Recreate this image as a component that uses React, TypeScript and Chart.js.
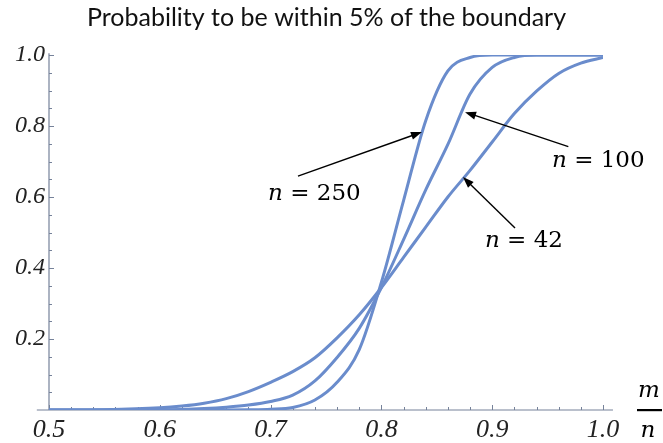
import React, { useEffect, useRef } from "react";
import { Chart, registerables } from "chart.js";

Chart.register(...registerables);

// ---- data ----
const xValues = [0.5, 0.55, 0.6, 0.62, 0.64, 0.66, 0.68, 0.7, 0.72, 0.74, 0.76, 0.78, 0.8, 0.82, 0.84, 0.86, 0.88, 0.9, 0.92, 0.94, 0.96, 0.98, 1.0];
const n42 = [0, 0.001, 0.006, 0.011, 0.019, 0.032, 0.052, 0.078, 0.108, 0.147, 0.203, 0.268, 0.345, 0.43, 0.515, 0.6, 0.675, 0.755, 0.835, 0.898, 0.948, 0.977, 0.993];
const n100 = [0, 0, 0.0005, 0.0015, 0.004, 0.008, 0.014, 0.024, 0.042, 0.082, 0.148, 0.23, 0.345, 0.48, 0.62, 0.748, 0.89, 0.965, 0.993, 1.0, 1.0, 1.0, 1.0];
const n250 = [0, 0, 0, 0, 0, 0, 0.0005, 0.002, 0.007, 0.028, 0.078, 0.17, 0.36, 0.59, 0.815, 0.955, 0.993, 1.0, 1.0, 1.0, 1.0, 1.0, 1.0];
const seriesNames = ["42", "100", "250"];
const titleText = "Probability to be within 5% of the boundary";

// annotation anchors in data coordinates: [text x, text baseline y], arrow tail, arrow tip
const annotationText = [[0.8935, 0.459], [0.954, 0.685], [0.6977, 0.592]];
const annotationTail = [[0.9206, 0.513], [0.9687, 0.7417], [0.7247, 0.659]];
const annotationTip = [[0.8736, 0.656], [0.8755, 0.839], [0.8366, 0.783]];

const LINE_COLOR = "#6a8ccc";
const AXIS_COLOR = "#76829a";
const LABEL_COLOR = "#222";

const axesPlugin = {
  id: "mmaAxes",
  beforeDatasetsDraw(chart: any) {
    const { ctx, scales } = chart;
    const x = scales.x;
    const y = scales.y;
    const x0 = x.getPixelForValue(0.5);
    const y0 = y.getPixelForValue(0);
    ctx.save();
    ctx.strokeStyle = AXIS_COLOR;
    ctx.lineWidth = 1.2;
    ctx.beginPath();
    ctx.moveTo(x.getPixelForValue(0.489), y0);
    ctx.lineTo(x.getPixelForValue(1.009), y0);
    ctx.moveTo(x0, y0);
    ctx.lineTo(x0, y.getPixelForValue(1.005));
    ctx.stroke();
    ctx.lineWidth = 1;
    ctx.beginPath();
    for (let i = 25; i <= 50; i++) {
      const px = Math.round(x.getPixelForValue(i / 50)) + 0.5;
      const len = i % 5 === 0 ? 5 : 3;
      ctx.moveTo(px, y0);
      ctx.lineTo(px, y0 - len);
    }
    for (let i = 1; i <= 20; i++) {
      const py = Math.round(y.getPixelForValue(i / 20)) + 0.5;
      const len = i % 4 === 0 ? 5 : 3;
      ctx.moveTo(x0, py);
      ctx.lineTo(x0 + len, py);
    }
    ctx.stroke();
    ctx.restore();
  },
  afterDatasetsDraw(chart: any) {
    const { ctx, scales } = chart;
    const x = scales.x;
    const y = scales.y;
    ctx.save();
    for (let i = 0; i < seriesNames.length; i++) {
      const tx = x.getPixelForValue(annotationTail[i][0]);
      const ty = y.getPixelForValue(annotationTail[i][1]);
      const hx = x.getPixelForValue(annotationTip[i][0]);
      const hy = y.getPixelForValue(annotationTip[i][1]);
      const ang = Math.atan2(hy - ty, hx - tx);
      const head = 11;
      const half = 4;
      const c = Math.cos(ang);
      const s = Math.sin(ang);
      ctx.strokeStyle = "#000";
      ctx.fillStyle = "#000";
      ctx.lineWidth = 1.4;
      ctx.beginPath();
      ctx.moveTo(tx, ty);
      ctx.lineTo(hx - head * c * 0.8, hy - head * s * 0.8);
      ctx.stroke();
      ctx.beginPath();
      ctx.moveTo(hx, hy);
      ctx.lineTo(hx - head * c - half * s, hy - head * s + half * c);
      ctx.lineTo(hx - head * c + half * s, hy - head * s - half * c);
      ctx.closePath();
      ctx.fill();

      const lx = x.getPixelForValue(annotationText[i][0]);
      const ly = y.getPixelForValue(annotationText[i][1]);
      ctx.textBaseline = "alphabetic";
      ctx.textAlign = "left";
      ctx.font = 'italic 23px "DejaVu Serif"';
      ctx.fillText("n", lx, ly);
      const w = ctx.measureText("n").width;
      ctx.font = '23px "DejaVu Serif"';
      ctx.fillText(" = " + seriesNames[i], lx + w, ly);
    }
    // m/n axis label
    const fx = x.getPixelForValue(1.0) + 46;
    const fy = y.getPixelForValue(0);
    ctx.font = 'italic 23px "DejaVu Serif"';
    ctx.textAlign = "center";
    ctx.textBaseline = "alphabetic";
    ctx.fillStyle = "#000";
    ctx.fillText("m", fx, fy - 13);
    ctx.fillText("n", fx - 1, fy + 27);
    ctx.fillRect(fx - 12, fy - 1, 25, 2.2);
    ctx.restore();
  },
};

export default function App() {
  const ref = useRef<HTMLCanvasElement>(null);
  useEffect(() => {
    if (!ref.current) return;
    const mk = (data: number[]) => ({
      data: xValues.map((v, i) => ({ x: v, y: data[i] })),
      borderColor: LINE_COLOR,
      borderWidth: 3,
      pointRadius: 0,
      fill: false,
      yAxisID: "y",
      cubicInterpolationMode: "monotone" as const,
    });
    const chart = new Chart(ref.current, {
      type: "line",
      data: { datasets: [mk(n42), mk(n100), mk(n250)] },
      options: {
        animation: false,
        responsive: false,
        devicePixelRatio: 1,
        layout: { padding: { left: 0, right: 10, top: 0, bottom: 0 } },
        plugins: {
          legend: { display: false },
          tooltip: { enabled: false },
          title: {
            display: true,
            text: titleText,
            color: "#111",
            font: { family: "Lato", size: 25, weight: "normal" },
            padding: { top: 3, bottom: 22 },
          },
        },
        scales: {
          x: {
            type: "linear",
            min: 0.5,
            max: 1.0,
            grid: { display: false, drawTicks: false },
            border: { display: false },
            ticks: {
              stepSize: 0.1,
              autoSkip: false,
              maxRotation: 0,
              padding: 5,
              color: LABEL_COLOR,
              font: { family: '"Liberation Serif"', style: "italic", size: 26 },
              callback: (v: any) => Number(v).toFixed(1),
            },
            afterFit: (s: any) => {
              s.height = 33;
            },
          },
          y: {
            type: "linear",
            min: 0,
            max: 1,
            grid: { display: false, drawTicks: false },
            border: { display: false },
            ticks: {
              stepSize: 0.2,
              padding: 4,
              color: LABEL_COLOR,
              font: { family: '"Liberation Serif"', style: "italic", size: 24 },
              callback: (v: any) => (Number(v) === 0 ? "" : Number(v).toFixed(1)),
            },
            afterFit: (s: any) => {
              s.width = 49;
            },
          },
          yRight: {
            type: "linear",
            position: "right",
            min: 0,
            max: 1,
            grid: { display: false, drawTicks: false },
            border: { display: false },
            ticks: { display: false },
            afterFit: (s: any) => {
              s.width = 50;
            },
          },
        },
      },
      plugins: [axesPlugin],
    });
    return () => chart.destroy();
  }, []);
  return (
    <div style={{ position: "absolute", left: 0, top: 0, width: 663, height: 443, background: "#fff" }}>
      <canvas ref={ref} width={663} height={443} />
    </div>
  );
}
